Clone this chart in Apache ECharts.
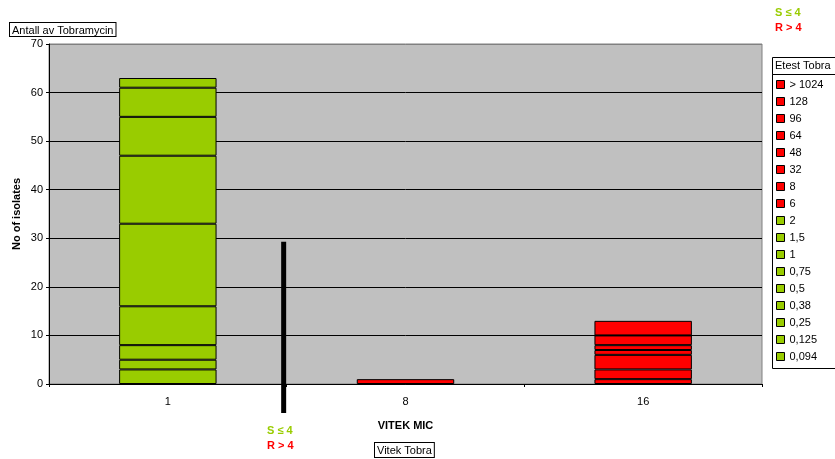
<!DOCTYPE html>
<html>
<head>
<meta charset="utf-8">
<script src="https://cdn.jsdelivr.net/npm/echarts@6/dist/echarts.min.js"></script>
<style>
  html, body { margin: 0; padding: 0; background: #fff; }
  #chart { width: 835px; height: 459px; }
</style>
</head>
<body>
<div id="chart"></div>
<script>
// Vitek MIC categories on the x axis
var vitekMic = ['1', '8', '16'];

// Etest MIC groups, bottom of the stack first
var etestLabels = ['0,094', '0,125', '0,25', '0,38', '0,5', '0,75', '1', '1,5', '2',
                   '6', '8', '32', '48', '64', '96', '128', '> 1024'];

// Isolate counts per Etest group, one value per Vitek category
var count_0094 = [3, 0, 0];
var count_0125 = [2, 0, 0];
var count_025  = [3, 0, 0];
var count_038  = [8, 0, 0];
var count_05   = [17, 0, 0];
var count_075  = [14, 0, 0];
var count_1    = [8, 0, 0];
var count_15   = [6, 0, 0];
var count_2    = [2, 0, 0];
var count_6    = [0, 0, 1];
var count_8    = [0, 1, 2];
var count_32   = [0, 0, 3];
var count_48   = [0, 0, 1];
var count_64   = [0, 0, 1];
var count_96   = [0, 0, 2];
var count_128  = [0, 0, 3];
var count_1024 = [0, 0, 0];

var etestCounts = [count_0094, count_0125, count_025, count_038, count_05, count_075,
                   count_1, count_15, count_2, count_6, count_8, count_32, count_48,
                   count_64, count_96, count_128, count_1024];

// Susceptible groups (S <= 4) come first, resistant ones after
var susceptibleCount = 9;

// Breakpoint marker drawn between Vitek 1 and 8, reaching up to this value
var breakpointTop = 29.3;

// Y axis ticks
var yMin = 0, yMax = 70, yStep = 10;

var FONT = '"Liberation Sans", Arial, sans-serif';
var GREEN = '#99CC00';
var RED = '#FF0000';

var series = etestLabels.map(function (name, i) {
  return {
    name: name,
    type: 'bar',
    stack: 'tobra',
    barWidth: '41%',
    itemStyle: {
      color: i < susceptibleCount ? GREEN : RED,
      borderColor: '#000',
      borderWidth: 1
    },
    emphasis: { disabled: true },
    data: etestCounts[i].map(function (v) { return v === 0 ? '-' : v; })
  };
});

var legendOrder = etestLabels.slice().reverse();

var chart = echarts.init(document.getElementById('chart'), null, { renderer: 'canvas' });

chart.setOption({
  animation: false,
  backgroundColor: '#fff',
  textStyle: { fontFamily: FONT },
  grid: {
    left: 49, right: 73, top: 44, bottom: 75,
    outerBoundsMode: 'none',
    containLabel: false,
    show: true,
    backgroundColor: '#C0C0C0',
    borderColor: '#808080',
    borderWidth: 1
  },
  legend: {
    data: legendOrder,
    orient: 'vertical',
    left: 776,
    top: 76,
    padding: 0,
    itemGap: 0,
    itemWidth: 8,
    itemHeight: 8,
    icon: 'rect',
    itemStyle: { borderColor: '#000', borderWidth: 1 },
    textStyle: { fontFamily: FONT, fontSize: 11, color: '#000', lineHeight: 17 },
    selectedMode: false
  },
  xAxis: {
    type: 'category',
    data: vitekMic,
    name: 'VITEK MIC',
    nameLocation: 'middle',
    nameGap: 36,
    nameMoveOverlap: false,
    nameTextStyle: { fontFamily: FONT, fontSize: 11, fontWeight: 'bold', color: '#000' },
    axisLine: { lineStyle: { color: '#000', width: 1 } },
    axisTick: { show: true, length: 3, lineStyle: { color: '#000' } },
    axisLabel: { fontFamily: FONT, fontSize: 11, color: '#000', margin: 12 }
  },
  yAxis: {
    type: 'value',
    min: yMin, max: yMax, interval: yStep,
    name: 'No of isolates',
    nameLocation: 'middle',
    nameGap: 27,
    nameMoveOverlap: false,
    nameTextStyle: { fontFamily: FONT, fontSize: 11, fontWeight: 'bold', color: '#000' },
    axisLine: { show: true, lineStyle: { color: '#000', width: 1 } },
    axisTick: { show: true, length: 3, lineStyle: { color: '#000' } },
    axisLabel: { fontFamily: FONT, fontSize: 11, color: '#000', margin: 6 },
    splitLine: {
      show: true,
      lineStyle: { color: ['#000', '#000', '#000', '#000', '#000', '#000', '#000', '#808080'], width: 1 }
    }
  },
  series: series
});

// Annotations: breakpoint marker, S/R captions, field boxes
function drawAnnotations() {
  var x0 = chart.convertToPixel({ xAxisIndex: 0 }, vitekMic[0]);
  var x1 = chart.convertToPixel({ xAxisIndex: 0 }, vitekMic[1]);
  var xb = (x0 + x1) / 2 - 3;
  var yTop = chart.convertToPixel({ yAxisIndex: 0 }, breakpointTop);
  var yBase = chart.convertToPixel({ yAxisIndex: 0 }, yMin);

  chart.setOption({
    graphic: [
      {
        type: 'line', z: 100,
        shape: { x1: xb, y1: yTop, x2: xb, y2: yBase + 29 },
        style: { stroke: '#000', lineWidth: 5 }
      },
      {
        type: 'text', left: 267, top: 425, z: 100,
        style: { text: 'S ≤ 4', font: 'bold 11px ' + FONT, fill: GREEN }
      },
      {
        type: 'text', left: 267, top: 440, z: 100,
        style: { text: 'R > 4', font: 'bold 11px ' + FONT, fill: RED }
      },
      {
        type: 'text', left: 775, top: 7, z: 100,
        style: { text: 'S ≤ 4', font: 'bold 11px ' + FONT, fill: GREEN }
      },
      {
        type: 'text', left: 775, top: 22, z: 100,
        style: { text: 'R > 4', font: 'bold 11px ' + FONT, fill: RED }
      },
      {
        type: 'text', left: 9, top: 22, z: 100,
        style: {
          text: 'Antall av Tobramycin', font: '11px ' + FONT, fill: '#000',
          backgroundColor: '#fff', borderColor: '#000', borderWidth: 1, padding: [2, 2, 0, 2]
        }
      },
      {
        type: 'text', left: 374, top: 442, z: 100,
        style: {
          text: 'Vitek Tobra', font: '11px ' + FONT, fill: '#000',
          backgroundColor: '#fff', borderColor: '#000', borderWidth: 1, padding: [2, 2, 1, 2]
        }
      },
      {
        type: 'rect', z: 90,
        shape: { x: 772.5, y: 57.5, width: 80, height: 17 },
        style: { fill: 'none', stroke: '#000', lineWidth: 1 }
      },
      {
        type: 'text', left: 775, top: 60, z: 100,
        style: { text: 'Etest Tobra', font: '11px ' + FONT, fill: '#000' }
      },
      {
        type: 'rect', z: 90,
        shape: { x: 772.5, y: 74.5, width: 80, height: 294 },
        style: { fill: 'none', stroke: '#000', lineWidth: 1 }
      }
    ]
  });
}
drawAnnotations();
</script>
</body>
</html>
